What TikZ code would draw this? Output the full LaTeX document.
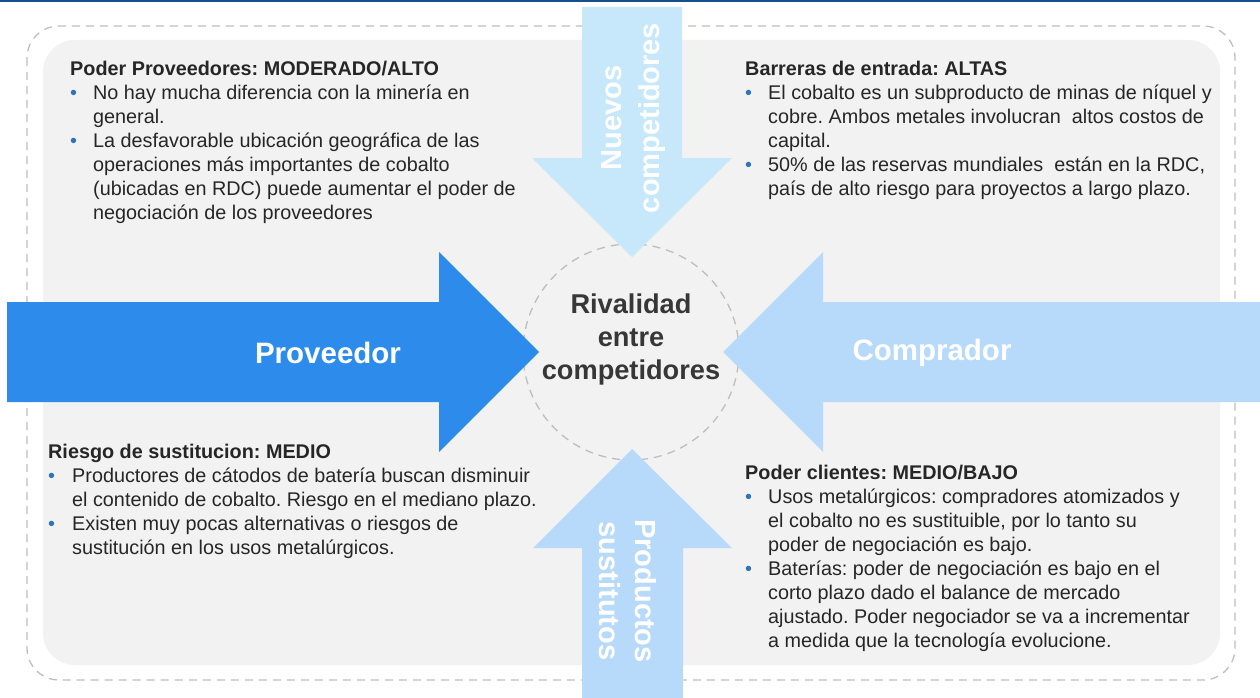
\documentclass[tikz,border=0pt]{standalone}
\usepackage{fontspec}
\setmainfont{Liberation Sans}
\definecolor{topline}{RGB}{24,78,140}
\definecolor{dashgray}{RGB}{190,190,190}
\definecolor{panel}{RGB}{242,242,242}
\definecolor{provblue}{RGB}{45,140,235}
\definecolor{lightblue}{RGB}{184,218,250}
\definecolor{paleblue}{RGB}{198,232,250}
\definecolor{txt}{RGB}{38,38,38}
\definecolor{ctxt}{RGB}{55,55,55}
\definecolor{bulletc}{RGB}{46,117,182}
\newcommand{\bul}{\makebox[23pt][l]{\textcolor{bulletc}{•}}}
\newcommand{\ind}{\hspace*{23pt}}
\newcommand{\bulb}{\makebox[24pt][l]{\textcolor{bulletc}{•}}}
\newcommand{\indb}{\hspace*{24pt}}
\frenchspacing
\tikzset{
  dashline/.style={draw=dashgray, line width=1.3pt, dash pattern=on 8pt off 6pt},
  textblock/.style={anchor=north west, inner sep=0pt, align=left, text=txt,
    font=\fontsize{19.8}{24}\selectfont},
  arrowlabel/.style={inner sep=0pt, text=white, align=center,
    font=\fontsize{29.5}{37}\selectfont\bfseries},
}
\begin{document}
\frenchspacing
\begin{tikzpicture}[x=1pt,y=-1pt]
\useasboundingbox (0,0) rectangle (1260,698);
\fill[white] (0,0) rectangle (1260,698);
\draw[topline, line width=2pt] (0,1.2) -- (1260,1.2);
% outer dashed frame and panel
\draw[dashline, rounded corners=32pt] (27,26) rectangle (1235,680);
\fill[panel, rounded corners=32pt] (43,40) rectangle (1220,665);
% central circle
\node[circle, dashline, minimum size=216pt, inner sep=0pt] (circ) at (631,352) {};
% arrows
\fill[provblue] (7,302) -- (439,302) -- (439,252) -- (539,352) -- (439,452) -- (439,402) -- (7,402) -- cycle;
\fill[lightblue] (1260,302) -- (823,302) -- (823,252) -- (723,352) -- (823,452) -- (823,402) -- (1260,402) -- cycle;
\fill[paleblue] (582,7) -- (682,7) -- (682,158) -- (732,158) -- (632,257) -- (532,158) -- (582,158) -- cycle;
\fill[lightblue] (582,698) -- (683,698) -- (683,548) -- (732,548) -- (632,449) -- (533,548) -- (582,548) -- cycle;
% center text
\node[inner sep=0pt, align=center, text=ctxt, font=\fontsize{27.2}{33}\selectfont\bfseries] (riv) at (631,339) {Rivalidad\\entre\\competidores};
% arrow labels
\node[arrowlabel] (prov) at (328,353) {Proveedor};
\node[arrowlabel] (comp) at (932,353) {Comprador};
\node[arrowlabel, rotate=90, font=\fontsize{29}{38}\selectfont\bfseries] (nuevos) at (634,118) {Nuevos\\competidores};
\node[arrowlabel, rotate=-90, font=\fontsize{29}{36}\selectfont\bfseries] (sust) at (628,591) {Productos\\sustitutos};
% text blocks
\node[textblock] (tl) at (70,61) {\textbf{Poder Proveedores: MODERADO/ALTO}\\
\bul No hay mucha diferencia con la minería en\\
\ind general.\\
\bul La desfavorable ubicación geográfica de las\\
\ind operaciones más importantes de cobalto\\
\ind (ubicadas en RDC) puede aumentar el poder de\\
\ind negociación de los proveedores};
\node[textblock] (tr) at (745,61) {\textbf{Barreras de entrada: ALTAS}\\
\bul El cobalto es un subproducto de minas de níquel y\\
\ind cobre. Ambos metales involucran \ altos costos de\\
\ind capital.\\
\bul 50\% de las reservas mundiales \ están en la RDC,\\
\ind país de alto riesgo para proyectos a largo plazo.};
\node[textblock] (bl) at (48,444) {\textbf{Riesgo de sustitucion: MEDIO}\\
\bulb Productores de cátodos de batería buscan disminuir\\
\indb el contenido de cobalto. Riesgo en el mediano plazo.\\
\bulb Existen muy pocas alternativas o riesgos de\\
\indb sustitución en los usos metalúrgicos.};
\node[textblock] (br) at (745,465) {\textbf{Poder clientes: MEDIO/BAJO}\\
\bul Usos metalúrgicos: compradores atomizados y\\
\ind el cobalto no es sustituible, por lo tanto su\\
\ind poder de negociación es bajo.\\
\bul Baterías: poder de negociación es bajo en el\\
\ind corto plazo dado el balance de mercado\\
\ind ajustado. Poder negociador se va a incrementar\\
\ind a medida que la tecnología evolucione.};
\end{tikzpicture}
\end{document}
